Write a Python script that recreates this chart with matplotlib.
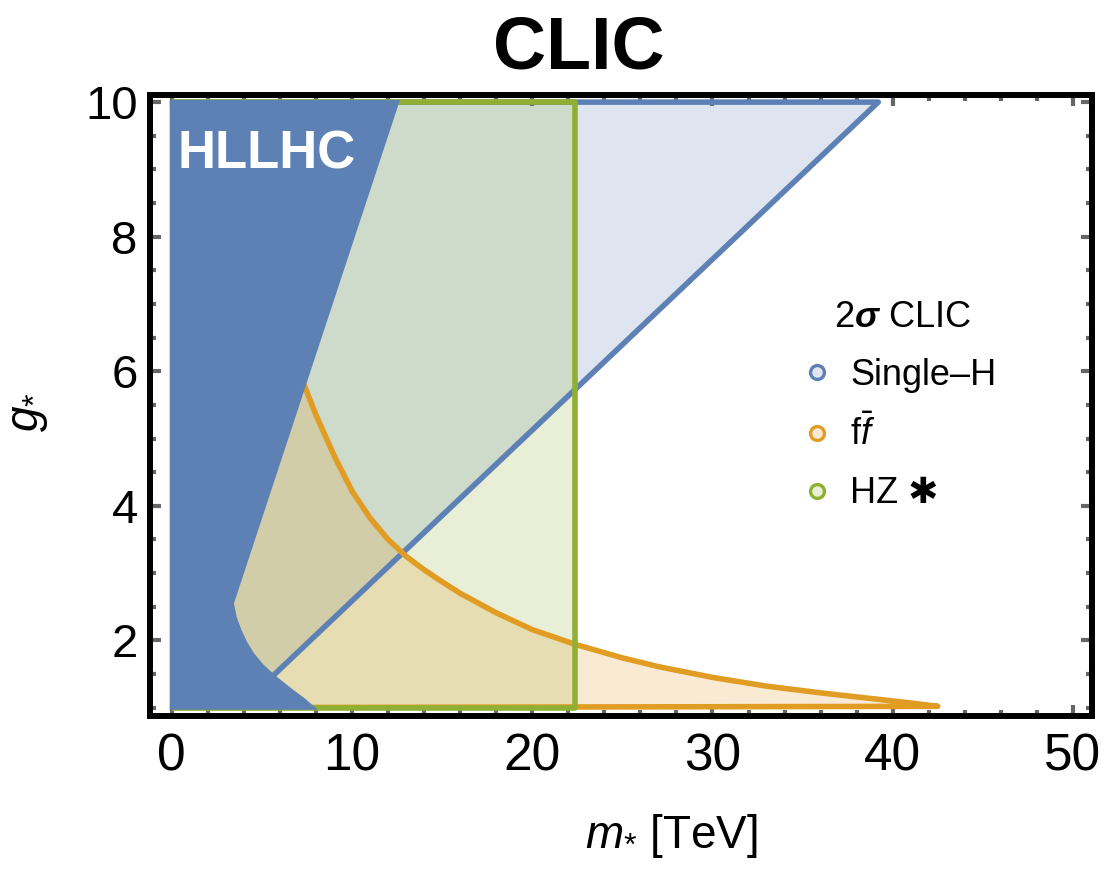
import matplotlib
matplotlib.use("Agg")
import matplotlib.pyplot as plt
from matplotlib.lines import Line2D

# --- data ---
# HL-LHC excluded region (boundary, m* in TeV, g*)
hl_m = [0.0, 0.0, 12.5, 3.33, 3.5, 3.78, 4.1, 4.5, 5.0, 5.6, 6.2, 6.7, 7.3, 7.8]
hl_g = [1.0, 10.0, 10.0, 2.55, 2.33, 2.13, 1.95, 1.78, 1.62, 1.47, 1.34, 1.235, 1.115, 1.0]

# single-H reach: diagonal line and region above it
sh_m = [5.6, 39.2, 0.0, 0.0]
sh_g = [1.47, 10.0, 10.0, 1.47]

# f fbar reach: curve and region below it
ff_m = [7.28, 8.0, 9.0, 10.0, 11.0, 12.0, 13.0, 14.0, 15.0, 16.0, 18.0, 20.0,
        22.4, 25.0, 27.0, 30.0, 33.0, 36.0, 39.0, 41.0, 42.5, 0.0, 0.0]
ff_g = [5.84, 5.35, 4.75, 4.22, 3.82, 3.5, 3.25, 3.05, 2.87, 2.7, 2.41, 2.16,
        1.94, 1.74, 1.61, 1.45, 1.32, 1.22, 1.13, 1.07, 1.02, 1.0, 5.84]

# HZ reach: box up to m* = 22.4 TeV
hz_m = [0.0, 22.4, 22.4, 0.0]
hz_g = [1.0, 1.0, 10.0, 10.0]

x_major = [0, 10, 20, 30, 40, 50]
y_major = [2, 4, 6, 8, 10]

blue = "#5E81B5"
orange = "#E19C24"
green = "#8FB032"

plt.rcParams["font.family"] = ["Liberation Sans", "DejaVu Sans"]
plt.rcParams["mathtext.fontset"] = "custom"
plt.rcParams["mathtext.rm"] = "Liberation Sans"
plt.rcParams["mathtext.it"] = "Liberation Sans:italic"
plt.rcParams["mathtext.bf"] = "Liberation Sans:italic:bold"

fig = plt.figure(figsize=(11.04, 8.75), dpi=100)
ax = fig.add_axes([0.136, 0.182, 0.853, 0.709])

# fills
ax.fill(sh_m, sh_g, color=blue, alpha=0.2, lw=0, zorder=1)
ax.fill(hz_m, hz_g, color=green, alpha=0.2, lw=0, zorder=1)
ax.fill(ff_m, ff_g, color=orange, alpha=0.2, lw=0, zorder=1)

# borders
ax.plot(sh_m[:3], sh_g[:3], color=blue, lw=4, zorder=2, solid_capstyle="butt")
ax.plot(ff_m[:22], ff_g[:22], color=orange, lw=4, zorder=3,
        solid_capstyle="butt", solid_joinstyle="round")
ax.plot(hz_m, hz_g, color=green, lw=4, zorder=4, solid_capstyle="butt")

# HL-LHC on top
ax.fill(hl_m, hl_g, facecolor=blue, edgecolor=blue, lw=3, zorder=5)
ax.text(0.33, 9.02, "HLLHC", color="white", fontsize=38, fontweight="bold",
        va="baseline", ha="left", zorder=6)

ax.set_xlim(-1.2, 51.05)
ax.set_ylim(0.88, 10.1)

ax.set_xticks(x_major)
ax.set_xticks(range(0, 51, 2), minor=True)
ax.set_yticks(y_major)
ax.set_yticks([1 + 0.5 * i for i in range(19)], minor=True)

for s in ax.spines.values():
    s.set_linewidth(4.3)
    s.set_color("black")

ax.tick_params(which="both", direction="in", top=True, right=True,
               color="#666666", width=3)
ax.tick_params(which="major", length=8)
ax.tick_params(which="minor", length=4.5)
ax.tick_params(axis="x", which="major", pad=12, labelsize=37)
ax.tick_params(axis="y", which="major", pad=9, labelsize=34)

ax.set_xlabel(r"$m_{*}$ [TeV]", fontsize=33)
ax.xaxis.set_label_coords(0.554, -0.155)
ax.set_ylabel(r"$g_{*}$", fontsize=33)
ax.yaxis.set_label_coords(-0.106, 0.49)

fig.text(0.524, 0.922, "CLIC", fontsize=53, fontweight="bold",
         ha="center", va="baseline")

handles = [
    Line2D([], [], ls="none", marker="o", ms=10, mew=2.4, mec=blue, mfc="#DFE6F0"),
    Line2D([], [], ls="none", marker="o", ms=10, mew=2.4, mec=orange, mfc="#F9EBD3"),
    Line2D([], [], ls="none", marker="o", ms=10, mew=2.4, mec=green, mfc="#E9EFD6"),
]
labels = ["Single\u2013H", r"f$\bar{f}$", "HZ \u2731"]
leg = ax.legend(handles, labels, title=r"2$\mathbf{\sigma}$ CLIC",
                loc="upper left", bbox_to_anchor=(790 / 1104, 1 - 282 / 875),
                bbox_transform=fig.transFigure, frameon=False, fontsize=26,
                title_fontsize=26, borderpad=0, handlelength=0.5,
                handletextpad=0.67, labelspacing=0.63)

fig.savefig("out.png", dpi=100)
